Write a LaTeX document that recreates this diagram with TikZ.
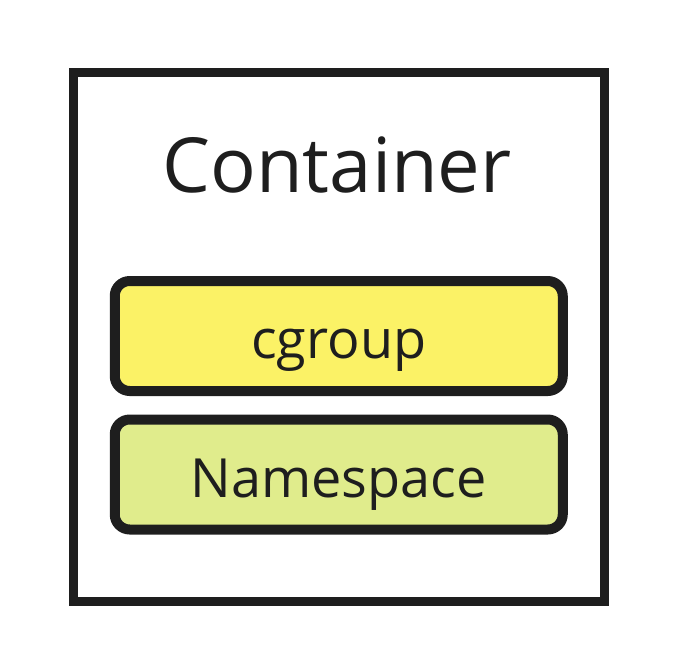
\documentclass[tikz,border=0pt]{standalone}
\usepackage{fontspec}
\setmainfont{Open Sans}
\usetikzlibrary{positioning}

\definecolor{inkgray}{HTML}{1E1E1E}
\definecolor{cgyellow}{HTML}{FBF266}
\definecolor{nsgreen}{HTML}{E0EC8C}

\begin{document}
\begin{tikzpicture}[x=1pt,y=-1pt,node distance=28.5pt,
    outerbox/.style={draw=inkgray, line width=9pt, outer sep=0pt,
      minimum width=531pt, minimum height=529pt},
    layer/.style={draw=inkgray, line width=10pt, rounded corners=15pt,
      outer sep=0pt, minimum width=448pt, minimum height=110pt,
      text height=45pt, text depth=0pt,
      text=inkgray, font=\fontsize{54}{64}\selectfont}]
   \useasboundingbox (0,0) rectangle (680,669);
   \node[outerbox] (box) at (339,337) {};
   \node[text=inkgray, font=\fontsize{76}{90}\selectfont] (title) at (337,165) {Container};
   \node[layer, fill=cgyellow] (cg) at (338.75,336) {cgroup};
   \node[layer, fill=nsgreen] (ns) [below=of cg] {Namespace};
\end{tikzpicture}
\end{document}
